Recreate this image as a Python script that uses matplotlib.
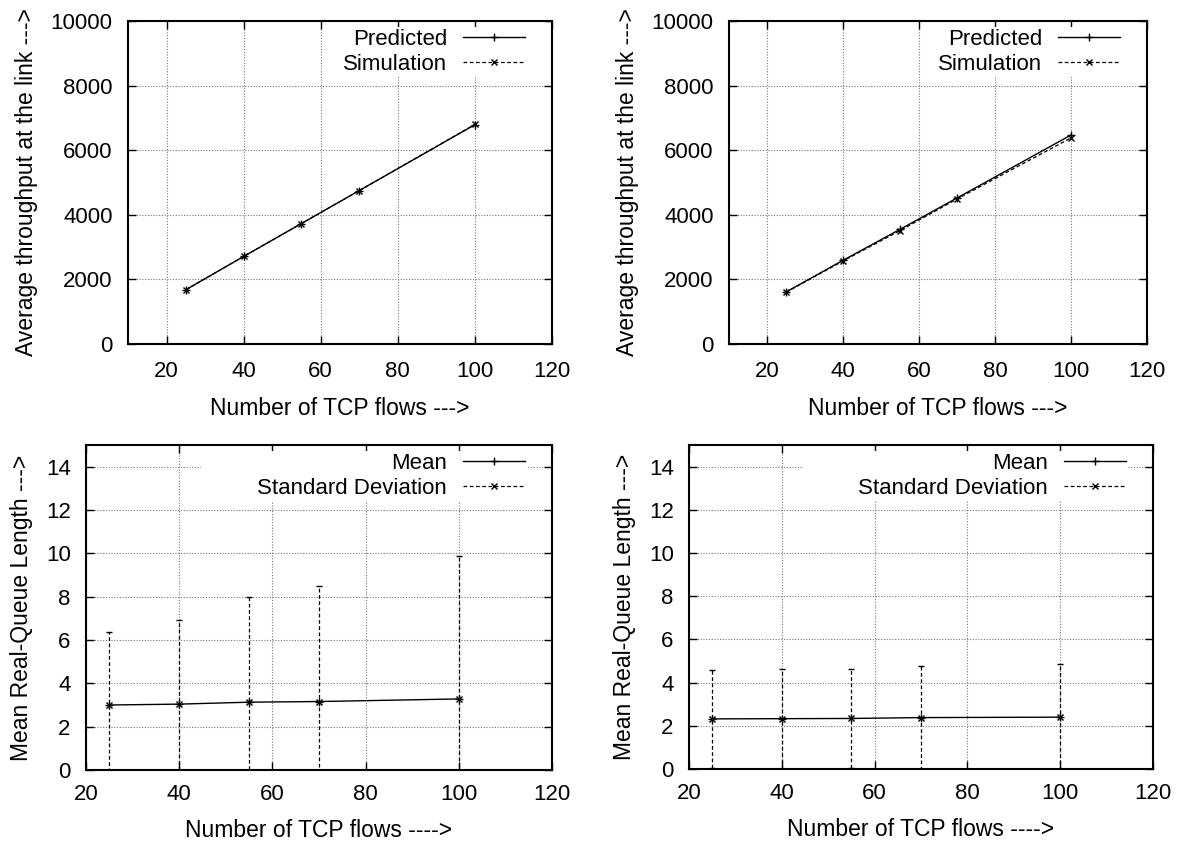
import matplotlib
matplotlib.use("Agg")
import matplotlib.pyplot as plt
from matplotlib.lines import Line2D
from matplotlib.patches import Rectangle
from matplotlib.transforms import IdentityTransform

plt.rcParams['font.family'] = ['Liberation Sans', 'DejaVu Sans']
plt.rcParams['font.size'] = 16

flows = [25, 40, 55, 70, 100]

# Top-left: throughput
tl_predicted = [1680, 2710, 3730, 4750, 6790]
tl_simulation = [1680, 2710, 3730, 4750, 6800]
# Top-right: throughput
tr_predicted = [1610, 2590, 3550, 4520, 6470]
tr_simulation = [1600, 2570, 3510, 4490, 6380]

# Bottom-left: queue length
bl_mean = [3.00, 3.04, 3.13, 3.16, 3.28]
bl_sd = [3.37, 3.90, 4.84, 5.35, 6.62]
# Bottom-right: queue length
br_mean = [2.32, 2.33, 2.34, 2.38, 2.40]
br_sd = [2.27, 2.32, 2.31, 2.41, 2.46]

thr_yticks = [0, 2000, 4000, 6000, 8000, 10000]
thr_xticks = [20, 40, 60, 80, 100, 120]
q_yticks = [0, 2, 4, 6, 8, 10, 12, 14]
q_xticks = [20, 40, 60, 80, 100, 120]

W, H = 1182, 843
fig = plt.figure(figsize=(W / 100, H / 100), dpi=100)


def make_ax(x0, x1, y0, y1):
    ax = fig.add_axes([x0 / W, (H - y1) / H, (x1 - x0) / W, (y1 - y0) / H])
    ax._px = (x1 - x0, y1 - y0)
    return ax


def style(ax, xpad):
    for s in ax.spines.values():
        s.set_linewidth(1.5)
        s.set_zorder(5)
    ax.tick_params(direction='in', top=True, right=True, length=6, width=1,
                   labelsize=16)
    ax.tick_params(axis='x', pad=xpad)
    ax.tick_params(axis='y', pad=11)
    ax.grid(True, linestyle=(0, (1, 1.5)), color='#777777', linewidth=0.8)
    ax.set_axisbelow(True)


def legend(ax, handles, labels):
    w, h = ax._px
    leg = ax.legend(handles, labels, loc='upper right', markerfirst=False,
                    bbox_to_anchor=(1 - 25 / w, 1 - 6 / h),
                    frameon=True, fancybox=False, edgecolor='none',
                    facecolor='white', framealpha=1.0, fontsize=16,
                    handlelength=2.8, handletextpad=0.7, labelspacing=0.18,
                    borderpad=0.1, borderaxespad=0.0)
    leg.set_zorder(4)
    return leg


def handles():
    return [Line2D([], [], color='black', linestyle='-', linewidth=1.0, marker='+',
                   markersize=6, markeredgewidth=1.0),
            Line2D([], [], color='black', linestyle=(0, (3, 2)), linewidth=0.9,
                   marker='x', markersize=5, markeredgewidth=1.0)]


def throughput(ax, pred, sim):
    ax.plot(flows, pred, color='black', linestyle='-', linewidth=1.0,
            marker='+', markersize=6, markeredgewidth=1.0, label='Predicted')
    ax.plot(flows, sim, color='black', linestyle=(0, (3, 2)), linewidth=0.9,
            marker='x', markersize=5, markeredgewidth=1.0, label='Simulation')
    ax.set_xlim(10, 120)
    ax.set_ylim(0, 10000)
    ax.set_xticks(thr_xticks)
    ax.set_yticks(thr_yticks)
    ax.set_xlabel('Number of TCP flows --->', fontsize=16.5, labelpad=11)
    ax.set_ylabel('Average throughput at the link --->', fontsize=16.5, labelpad=9)
    style(ax, 12)
    return legend(ax, handles(), ['Predicted', 'Simulation'])


def queue(ax, mean, sd):
    ax.plot(flows, mean, color='black', linestyle='-', linewidth=1.0,
            marker='+', markersize=6, markeredgewidth=1.0)
    eb = ax.errorbar(flows, mean, yerr=sd, fmt='x', color='black',
                     markersize=5, markeredgewidth=1.0, ecolor='black',
                     elinewidth=0.9, capsize=2, capthick=0.9)
    for lc in eb[2]:
        lc.set_linestyle((0, (3, 2)))
    ax.set_xlim(20, 120)
    ax.set_ylim(0, 15)
    ax.set_xticks(q_xticks)
    ax.set_yticks(q_yticks)
    ax.set_xlabel('Number of TCP flows ---->', fontsize=16.5, labelpad=10)
    ax.set_ylabel('Mean Real-Queue Length --->', fontsize=16.5, labelpad=9)
    style(ax, 10)
    return legend(ax, handles(), ['Mean', 'Standard Deviation'])


ax_tl = make_ax(128, 552, 21, 344)
leg_tl = throughput(ax_tl, tl_predicted, tl_simulation)
ax_tr = make_ax(729, 1147, 21, 344)
leg_tr = throughput(ax_tr, tr_predicted, tr_simulation)
ax_bl = make_ax(86, 552, 445, 770)
leg_bl = queue(ax_bl, bl_mean, bl_sd)
ax_br = make_ax(689, 1153, 445, 769)
leg_br = queue(ax_br, br_mean, br_sd)

# gnuplot's key box is wider than the text on its left side; extend the
# opaque key background the same way
fig.canvas.draw()
for ax, leg, ext in [(ax_tl, leg_tl, 14), (ax_tr, leg_tr, 14),
                     (ax_bl, leg_bl, 54), (ax_br, leg_br, 54)]:
    bb = leg.get_window_extent()
    ax.add_patch(Rectangle((bb.x0 - ext, bb.y0), ext + 2, bb.height,
                           transform=IdentityTransform(), facecolor='white',
                           edgecolor='none', zorder=1.5, clip_on=False))

fig.savefig('out.png', dpi=100)
